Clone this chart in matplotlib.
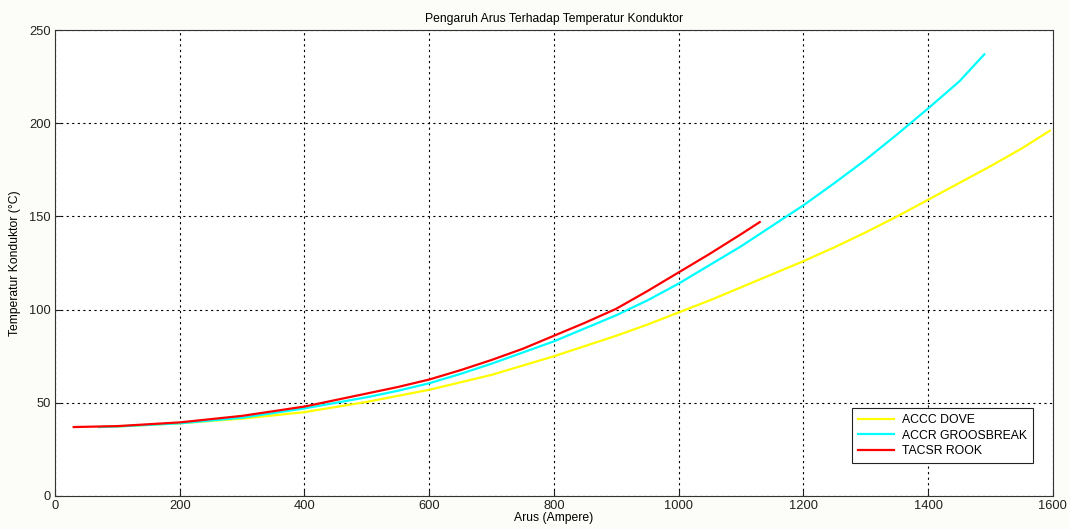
import matplotlib
matplotlib.use("Agg")
import matplotlib.pyplot as plt

plt.rcParams['font.family'] = ['Liberation Sans', 'DejaVu Sans']

# Data
dove_x = [70, 100, 200, 300, 400, 500, 600, 700, 800, 900, 950, 1000, 1050, 1100, 1150, 1200,
          1250, 1300, 1350, 1400, 1450, 1500, 1550, 1595]
dove_y = [37, 37.3, 39, 41.5, 45, 50.5, 57, 65, 75, 86, 92, 98.5, 105, 112, 119, 126,
          133.5, 141.5, 150, 159, 168, 177, 186.5, 196]

groos_x = [70, 100, 200, 300, 400, 500, 550, 600, 650, 700, 800, 900, 950, 1000, 1050, 1100, 1150, 1200,
           1250, 1300, 1350, 1400, 1450, 1490]
groos_y = [37, 37.3, 39, 42, 47, 53, 56.5, 60.5, 65.5, 71, 83, 97, 105, 114, 124, 134, 145, 156,
           168, 180.5, 194, 208, 222.5, 237]

rook_x = [30, 100, 200, 300, 400, 500, 550, 600, 650, 700, 750, 800, 850, 900, 950, 1000, 1050, 1100, 1130]
rook_y = [37, 37.5, 39.5, 43, 48, 55, 58.5, 62.5, 67.5, 73, 79, 86, 93, 100.5, 110, 120, 130, 140.5, 147]

series_labels = ['ACCC DOVE', 'ACCR GROOSBREAK', 'TACSR ROOK']
x_ticks = [0, 200, 400, 600, 800, 1000, 1200, 1400, 1600]
y_ticks = [0, 50, 100, 150, 200, 250]

fig = plt.figure(figsize=(10.70, 5.29), dpi=100, facecolor='#fcfcf8')
ax = fig.add_axes([0.0514, 0.0624, 0.9326, 0.8806])
ax.set_facecolor('white')

ax.plot(dove_x, dove_y, color='#ffff00', lw=1.6, label=series_labels[0])
ax.plot(groos_x, groos_y, color='#00ffff', lw=1.6, label=series_labels[1])
ax.plot(rook_x, rook_y, color='#ff0000', lw=1.6, label=series_labels[2])

ax.set_xlim(0, 1600)
ax.set_ylim(0, 250)
ax.set_xticks(x_ticks)
ax.set_yticks(y_ticks)
ax.tick_params(direction='in', length=4, labelsize=9.3, colors='#222222', pad=3)
ax.grid(True, color='black', linestyle=(0, (2, 3)), linewidth=0.8)
for s in ax.spines.values():
    s.set_color('#333333')
    s.set_linewidth(0.8)

ax.set_title('Pengaruh Arus Terhadap Temperatur Konduktor', fontsize=8.7, pad=6)
ax.set_xlabel('Arus (Ampere)', fontsize=8.7, labelpad=0)
ax.set_ylabel('Temperatur Konduktor (\u00b0C)', fontsize=8.7, labelpad=6)

leg = ax.legend(loc='lower right', bbox_to_anchor=(0.986, 0.057), fontsize=8.8,
                fancybox=False, framealpha=1, edgecolor='#222222',
                handlelength=3.0, borderpad=0.5, labelspacing=0.3, handletextpad=0.6)
leg.get_frame().set_linewidth(0.8)

fig.savefig('out.png', dpi=100, facecolor=fig.get_facecolor())
